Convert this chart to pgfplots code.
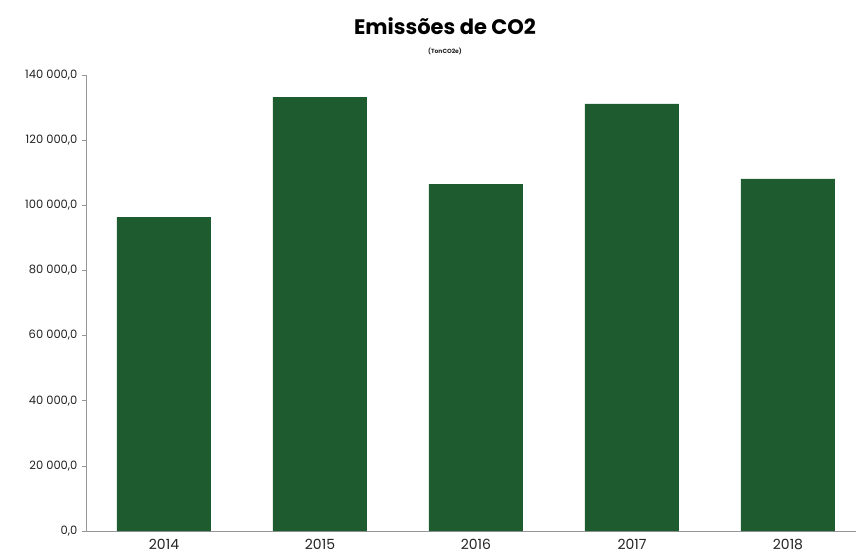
\documentclass[border=0pt]{standalone}
\usepackage{pgfplots}
\pgfplotsset{compat=1.18}
\usepackage{fontspec}
\setmainfont{Poppins}
\definecolor{bargreen}{RGB}{30,92,48}
\definecolor{axgray}{RGB}{150,150,150}
\definecolor{txt}{RGB}{35,35,35}
\begin{document}
\begin{tikzpicture}
\useasboundingbox (-86pt,-27pt) rectangle (770pt,531pt);
\begin{axis}[
  at={(0,0)}, anchor=south west,
  scale only axis,
  width=770pt, height=456pt,
  xmin=-0.5, xmax=4.436,
  ymin=0, ymax=140000,
  ytick={0,20000,...,140000},
  xtick={0,1,2,3,4},
  xticklabels={2014,2015,2016,2017,2018},
  extra x ticks={0.5,1.5,2.5,3.5},
  extra x tick labels={},
  extra x tick style={major tick length=4pt, tick style={axgray, line width=0.6pt}},
  axis x line*=bottom, axis y line*=left,
  axis line style={axgray, line width=0.8pt, -},
  x tick style={draw=none},
  y tick style={axgray, line width=0.6pt},
  tick align=outside,
  major tick length=4pt,
  scaled y ticks=false,
  /pgf/number format/fixed,
  /pgf/number format/fixed zerofill,
  /pgf/number format/precision=1,
  /pgf/number format/use comma,
  /pgf/number format/1000 sep={\ },
  /pgf/number format/assume math mode=true,
  yticklabel style={font=\fontsize{11.5}{13}\selectfont, text=txt, xshift=-1pt},
  xticklabel style={font=\fontsize{14}{16}\selectfont, text=txt, yshift=-1pt},
  ybar, bar width=94pt,
  clip=false,
]
\addplot[fill=bargreen, draw=none] coordinates {(0,96400) (1,133200) (2,106500) (3,131100) (4,108100)};
\end{axis}
\node[font=\fontsize{21}{24}\selectfont\bfseries, text=black] at (359pt,505pt) {Emissões de CO2};
\node[font=\fontsize{6}{7}\selectfont\bfseries, text=txt] at (359pt,480pt) {(TonCO2e)};
\end{tikzpicture}
\end{document}
